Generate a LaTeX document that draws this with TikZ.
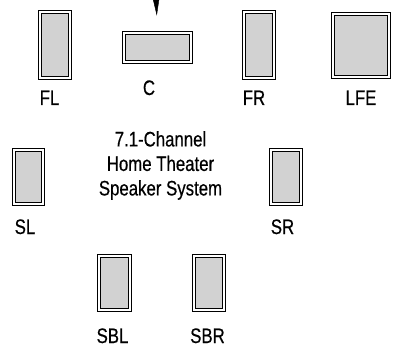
\documentclass[tikz,border=0pt]{standalone}
\usepackage{fontspec}
\setmainfont{Liberation Sans}[FakeStretch=0.8, FakeBold=0.5]
\usetikzlibrary{arrows.meta, positioning}

\tikzset{
  speaker/.style={draw, double=white, double distance=2.2pt, line width=0.8pt, fill=gray!35, inner sep=0pt},
  tag/.style={anchor=base, inner sep=0pt, font=\fontsize{21}{24.5}\selectfont}
}

\begin{document}
\begin{tikzpicture}[x=1pt, y=-1pt]
        \useasboundingbox (0,0) rectangle (393,350);
        % front row
        \node[speaker, minimum width=30pt, minimum height=66pt] (fl) at (55,45) {};
        \node[speaker, minimum width=67pt, minimum height=29pt] (c) at (157.5,47.5) {};
        \node[speaker, minimum width=30pt, minimum height=66pt] (fr) at (259,45) {};
        \node[speaker, minimum width=55.5pt, minimum height=63pt] (lfe) at (361,45.5) {};
        % surround
        \node[speaker, minimum width=29pt, minimum height=54pt] (sl) at (28.5,177) {};
        \node[speaker, minimum width=30pt, minimum height=54pt] (sr) at (286,177) {};
        \node[speaker, minimum width=31pt, minimum height=54pt] (sbl) at (114.5,283) {};
        \node[speaker, minimum width=30pt, minimum height=54pt] (sbr) at (209,283) {};
        % labels
        \node[tag] (fltxt) at (49.5,105) {FL};
        \node[tag] (ctxt) at (149,95) {C};
        \node[tag] (frtxt) at (254,105) {FR};
        \node[tag] (lfetxt) at (361,105) {LFE};
        \node[tag] (sltxt) at (25,234) {SL};
        \node[tag] (srtxt) at (282.5,234) {SR};
        \node[tag] (sbltxt) at (112.5,343) {SBL};
        \node[tag] (sbrtxt) at (207.5,343) {SBR};
        \node[align=center, inner sep=0pt, font=\fontsize{21}{24.5}\selectfont] (title) at (160.5,165.5) {7.1-Channel\\Home Theater\\Speaker System};
        % feed into centre
        \coordinate (feed) at (156,-3);
        \draw[-{Triangle[length=16pt, width=6pt]}, shorten >=17pt] (feed) -- (c.north);
    \end{tikzpicture}
\end{document}
